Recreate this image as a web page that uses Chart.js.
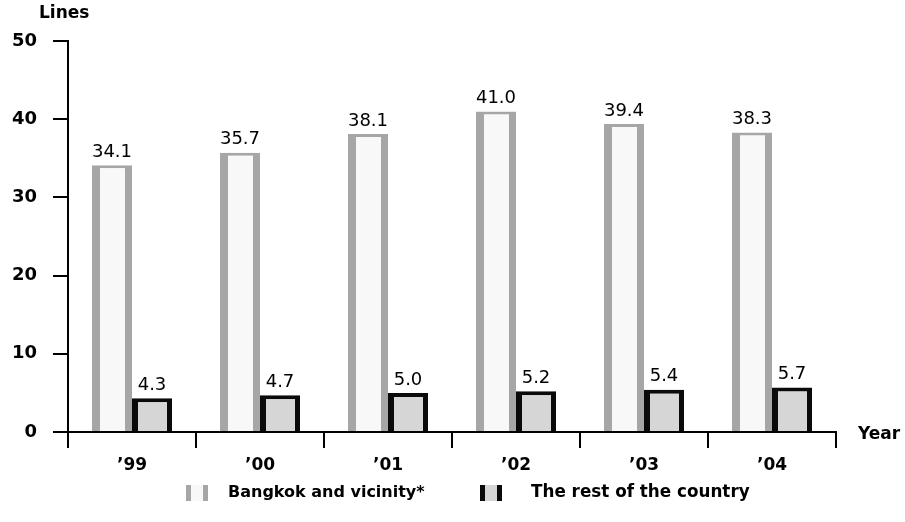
<!DOCTYPE html>
<html>
<head>
<meta charset="utf-8">
<script src="https://cdn.jsdelivr.net/npm/chart.js@4/dist/chart.umd.min.js"></script>
<style>
html,body{margin:0;padding:0;background:#fff;}
#wrap{width:905px;height:522px;position:relative;}
</style>
</head>
<body>
<div id="wrap"><canvas id="c" width="905" height="522"></canvas></div>
<script>
const years = ["’99", "’00", "’01", "’02", "’03", "’04"];
const bangkok = [34.1, 35.7, 38.1, 41.0, 39.4, 38.3];
const restOfCountry = [4.3, 4.7, 5.0, 5.2, 5.4, 5.7];
const seriesNames = ["Bangkok and vicinity*", "The rest of the country"];
const yTicks = [0, 10, 20, 30, 40, 50];

const FONT = "'DejaVu Sans', Verdana, sans-serif";

const valueLabels = {
  id: 'valueLabels',
  afterDatasetsDraw(chart) {
    const ctx = chart.ctx;
    ctx.save();
    ctx.font = "18px " + FONT;
    ctx.fillStyle = '#000';
    ctx.textAlign = 'center';
    ctx.textBaseline = 'bottom';
    chart.data.datasets.forEach((ds, i) => {
      const meta = chart.getDatasetMeta(i);
      meta.data.forEach((el, j) => {
        ctx.fillText(ds.data[j].toFixed(1), el.x, el.y - 4);
      });
    });
    ctx.restore();
  }
};

const extras = {
  id: 'extras',
  afterDraw(chart) {
    const ctx = chart.ctx;
    const ca = chart.chartArea;
    ctx.save();
    ctx.font = "bold 17px " + FONT;
    ctx.fillStyle = '#000';
    ctx.textBaseline = 'middle';
    ctx.textAlign = 'left';
    ctx.fillText('Lines', 39, 14);
    ctx.fillText('Year', ca.right + 22, ca.bottom + 3);
    // legend
    const items = [
      { x: 186, tx: 228 },
      { x: 480, tx: 531 }
    ];
    const ly = 493;
    chart.data.datasets.forEach((ds, i) => {
      const it = items[i];
      ctx.fillStyle = ds.backgroundColor;
      ctx.fillRect(it.x, ly - 8, 22, 16);
      ctx.fillStyle = ds.borderColor;
      const sw = 5;
      ctx.fillRect(it.x, ly - 8, sw, 16);
      ctx.fillRect(it.x + 22 - sw, ly - 8, sw, 16);
      ctx.fillStyle = '#000';
      ctx.font = (i === 0 ? "bold 16px " : "bold 16.8px ") + FONT;
      ctx.fillText(ds.label, it.tx, ly);
    });
    ctx.restore();
  }
};

new Chart(document.getElementById('c'), {
  type: 'bar',
  data: {
    labels: years,
    datasets: [
      {
        label: seriesNames[0],
        data: bangkok,
        backgroundColor: '#f8f8f8',
        borderColor: '#a6a6a6',
        borderWidth: { left: 8, right: 7, top: 3, bottom: 0 }
      },
      {
        label: seriesNames[1],
        data: restOfCountry,
        backgroundColor: '#d6d6d6',
        borderColor: '#0a0a0a',
        borderWidth: { left: 6, right: 5, top: 4, bottom: 0 }
      }
    ]
  },
  options: {
    responsive: false,
    animation: false,
    devicePixelRatio: 1,
    layout: { padding: { top: 41, right: 69, left: 0, bottom: 45 } },
    datasets: { bar: { categoryPercentage: 0.625, barPercentage: 1.0 } },
    plugins: {
      tooltip: { enabled: false },
      legend: { display: false }
    },
    scales: {
      x: {
        offset: true,
        grid: { display: true, drawOnChartArea: false, drawTicks: true, tickLength: 16, color: '#000', lineWidth: 2, offset: true },
        border: { display: true, color: '#000', width: 2 },
        ticks: { color: '#000', font: { family: FONT, size: 17, weight: 'bold' }, padding: 7 },
        afterFit(s) { s.height = 45; }
      },
      y: {
        min: 0, max: 50,
        afterBuildTicks(s) { s.ticks = yTicks.map(v => ({ value: v })); },
        grid: { display: true, drawOnChartArea: false, drawTicks: true, tickLength: 15, color: '#000', lineWidth: 2 },
        border: { display: true, color: '#000', width: 2 },
        ticks: { color: '#000', font: { family: FONT, size: 18, weight: 'bold' }, padding: 16 },
        afterFit(s) { s.width = 68; }
      }
    }
  },
  plugins: [valueLabels, extras]
});
</script>
</body>
</html>
